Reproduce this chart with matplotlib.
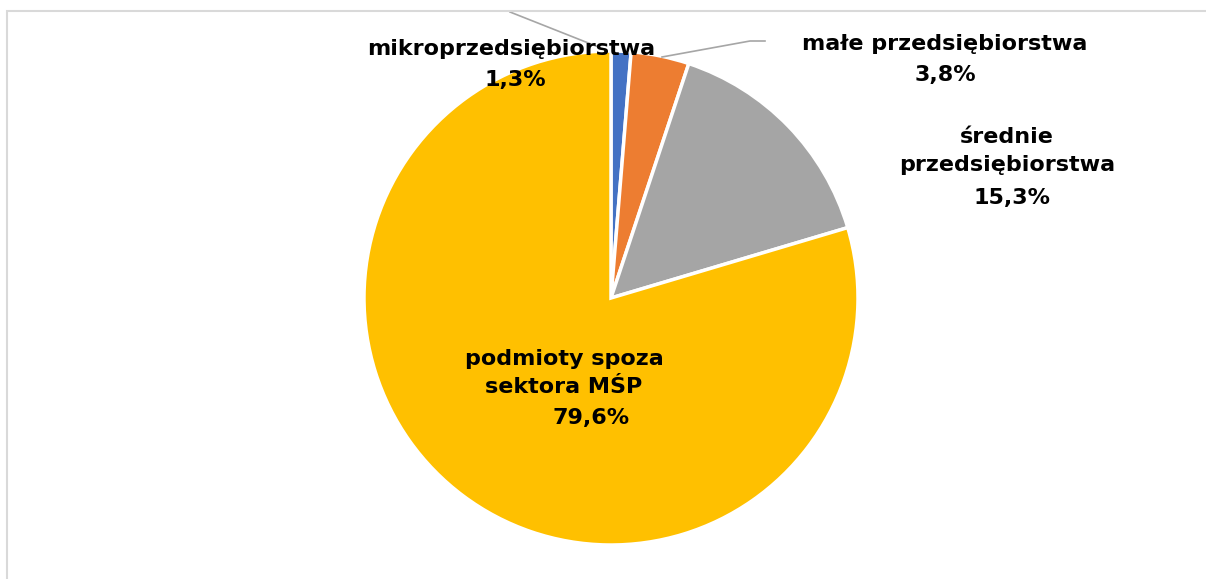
import matplotlib
matplotlib.use("Agg")
from matplotlib import pyplot as plt
from matplotlib.patches import Rectangle

labels = ["mikroprzedsiębiorstwa", "małe przedsiębiorstwa", "średnie\nprzedsiębiorstwa", "podmioty spoza\nsektora MŚP"]
values = [1.3, 3.8, 15.3, 79.6]
colors = ["#4472c4", "#ed7d31", "#a5a5a5", "#ffc000"]

W, H = 1206, 579
cx, cy, r = 611, 298, 247

fig = plt.figure(figsize=(W / 100, H / 100), dpi=100)
ax = fig.add_axes([0, 0, 1, 1])
ax.pie(values, colors=colors, startangle=90, counterclock=False,
       wedgeprops=dict(edgecolor="white", linewidth=2.5))
ax.set_xlim(-cx / r, (W - cx) / r)
ax.set_ylim(-(H - cy) / r, cy / r)
ax.set_aspect("auto")
ax.axis("off")


def px(x, y):
    return (x - cx) / r, (cy - y) / r


# label positions in pixels (name lines, percent line)
label_pos = [((511, 49), (515, 80)),
             ((945, 44), (945, 75)),
             ((1007, 151), (1012, 198)),
             ((564, 373), (591, 418))]
fs = 16
for lab, v, (p1, p2) in zip(labels, values, label_pos):
    ax.text(*px(*p1), lab, ha="center", va="center", fontsize=fs,
            fontweight="bold", color="black", linespacing=1.45)
    ax.text(*px(*p2), ("%.1f%%" % v).replace(".", ","), ha="center", va="center",
            fontsize=fs, fontweight="bold", color="black")

# leader lines
lc = "#a6a6a6"
ax.plot(*zip(px(510, 12), px(606, 50)), color=lc, lw=1.2, clip_on=False)
ax.plot(*zip(px(662, 57), px(750, 41), px(765, 41)), color=lc, lw=1.2, clip_on=False)

# chart area border
fig.patches.append(Rectangle((7 / W, -0.1), 1.2, (H - 11) / H + 0.1,
                             transform=fig.transFigure, fill=False,
                             edgecolor="#d9d9d9", lw=1.5))

plt.savefig("out.png", dpi=100)
